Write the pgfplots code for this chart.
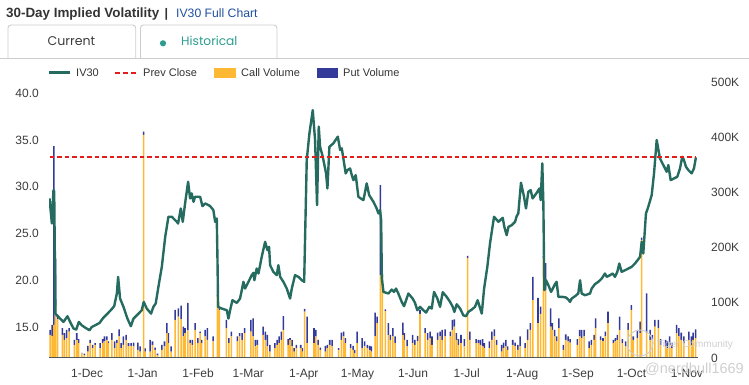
\documentclass[border=0pt]{standalone}
\usepackage{pgfplots}
\pgfplotsset{compat=1.18}
\usepackage{pgfplotstable}
\usepackage{fontspec}
\setmainfont{Liberation Sans}
\newfontfamily\tabfont{Poppins}
\definecolor{ivc}{HTML}{256B5F}
\definecolor{prevc}{HTML}{E31C1C}
\definecolor{callc}{HTML}{FDB933}
\definecolor{putc}{HTML}{343A9A}
\definecolor{labc}{HTML}{3C3C3C}
\definecolor{titlec}{HTML}{333333}
\definecolor{linkc}{HTML}{1F4FA0}
\definecolor{tealc}{HTML}{2B9C8E}
\definecolor{tabb}{HTML}{CCCCCC}
\definecolor{axc}{HTML}{555555}
\definecolor{wmc}{HTML}{CFCFCF}

\pgfplotstableread{
d v
-21.0 28.75
-19.7 26.07
-18.8 29.64
-18.4 29.5
-17.7 16.43
-16.9 16.25
-15.1 15.90
-13.2 15.54
-11.0 16.15
-9.5 15.54
-7.6 14.83
-6.1 14.72
-4.65 15.54
-3.0 15.18
-1.1 14.93
1.3 14.65
2.6 15.0
4.5 15.18
6.9 15.43
9.1 16.0
11.0 16.36
13.2 16.79
15.1 17.22
16.6 18.58
17.3 20.36
18.4 18.04
20.3 17.15
22.5 15.90
24.4 15.08
25.9 15.90
28.7 16.43
30.5 16.79
31.6 17.68
33.3 16.97
35.7 16.43
37.0 17.15
38.3 17.51
39.8 19.29
41.7 21.43
43.6 24.64
45.4 26.79
47.3 26.79
50.1 26.25
50.8 26.07
52.3 27.68
53.4 26.25
54.7 28.21
56.4 30.54
57.5 28.75
58.4 29.29
59.4 28.39
60.3 28.93
63.1 28.93
64.4 27.93
65.9 28.21
67.75 28.04
68.7 27.93
70.5 27.50
71.5 26.25
72.4 26.61
72.8 22.14
73.15 17.15
75.2 16.97
78.0 16.79
78.9 15.90
79.85 16.79
81.15 17.86
83.6 17.58
85.4 18.04
87.3 19.83
88.2 19.11
90.1 19.83
91.9 20.54
92.9 20.79
93.4 20.0
94.7 21.25
95.7 20.72
97.5 22.5
99.4 24.11
100.7 23.21
101.6 23.57
102.2 21.61
104.0 20.90
105.9 20.54
106.8 21.61
107.8 20.36
109.6 19.83
111.5 19.11
113.35 18.04
114.3 19.11
116.1 20.54
118.0 20.36
119.9 20.0
121.2 19.83
122.65 32.86
124.15 35.71
126.0 38.21
127.3 35.0
128.4 28.04
129.35 36.43
130.1 34.28
131.6 33.21
133.45 31.43
134.2 29.82
135.3 34.28
137.5 34.64
140.0 35.36
141.3 33.93
142.2 34.11
143.1 33.03
144.4 31.43
145.4 31.79
146.85 31.96
147.8 31.25
148.7 30.71
150.0 31.25
151.5 28.93
152.8 28.75
154.3 28.57
156.15 30.36
157.5 29.11
159.9 28.39
161.7 27.68
162.7 27.14
163.6 27.50
164.2 26.43
164.6 20.2
165.5 18.75
168.25 18.58
170.1 19.0
171.4 18.75
172.5 19.11
173.8 18.58
175.7 17.68
177.0 17.22
179.4 18.58
181.8 18.04
183.1 17.58
184.4 16.79
185.9 17.15
187.4 16.86
189.3 16.54
191.1 17.15
192.45 16.97
193.75 18.75
195.6 18.04
197.1 17.15
198.6 18.72
200.8 18.22
202.7 17.68
204.2 17.15
205.1 16.61
206.4 17.43
208.3 16.97
210.1 16.25
211.6 16.15
212.9 16.61
214.8 16.86
216.6 17.15
218.1 17.86
220.4 16.43
221.7 19.11
223.5 21.43
225.0 23.93
227.25 26.79
229.7 26.25
232.1 26.68
233.0 25.71
234.3 24.82
235.3 25.71
237.1 25.89
239.0 26.25
239.9 26.86
240.8 27.14
242.3 30.43
244.0 28.93
245.1 27.68
246.4 29.46
247.7 29.64
248.8 28.75
251.1 29.36
252.6 29.82
253.3 28.57
254.2 32.5
254.8 28.21
255.35 18.93
256.3 20.0
257.6 19.47
259.1 18.75
261.3 19.58
262.2 19.83
263.2 18.22
265.6 18.22
267.45 18.15
268.75 17.93
269.7 17.68
270.6 18.04
272.5 18.29
274.3 18.58
275.3 20.0
276.2 18.58
278.05 18.40
280.85 18.58
281.8 19.11
283.6 19.58
285.5 19.83
287.4 20.18
289.2 20.72
290.15 20.36
292.0 20.54
293.5 20.72
294.8 20.36
296.1 20.90
297.2 21.79
298.5 20.90
300.4 21.07
302.25 21.25
304.1 21.43
306.0 21.79
308.8 22.5
309.7 24.11
310.6 22.86
312.1 27.14
313.4 27.86
315.3 29.11
316.6 31.43
318.1 35.0
319.9 33.03
321.8 32.32
323.65 31.61
324.6 32.32
325.9 30.71
327.75 30.89
329.6 31.07
331.1 31.96
332.4 33.21
333.3 32.86
334.45 32.14
335.75 31.79
337.6 31.43
338.9 31.96
340.0 33.14
}\ivdata

\pgfplotstableread{
d c p
-20.7 42 9
-19.6 40 20
-18.6 60 324
-17.6 95 85
-16.5 70 8
-13.8 42 12
-12.7 33 12
-11.4 36 15
-10.05 48 6
-7.1 24 9
-5.8 33 12
-4.8 27 7
-3.0 8.5 1
-1.5 5 3
0.4 11.5 10.5
1.7 27 6
3.0 18 6
4.5 24 3
7.3 18 9
8.6 27 7
9.7 30 9
11.0 33 6
11.9 27 3
13.8 33 12
15.3 18 12
16.6 27 6
17.9 39 13
19.0 18 9
20.3 24 15
21.8 33 9
23.1 21 6
24.6 22 5
25.9 21 7
28.3 14.5 13.5
29.6 11.5 9.5
31.5 404 6
32.4 11.5 6
35.2 11.5 21.5
36.5 24 6
38.0 14.5 4.5
39.3 5 3
41.7 14.5 9.5
43.2 21 9
44.5 45 18
45.4 27 18
46.9 11.5 9.5
49.1 69 18
51.0 75 15
52.5 70 25
53.8 39 18
54.7 45 9
56.2 50 50
57.5 27 6
58.8 24 9
60.3 51 12
61.8 27 9
63.1 45 3
64.0 27 6
65.9 39 12
67.2 33 21
70.4 30 9
72.8 111 4
73.9 87 3
77.8 54 15
79.1 27 9
80.6 39 9
83.9 30 9
85.2 39 6
86.5 33 12
88.0 45 9
91.4 48 21
92.7 39 33
94.0 21 12
95.1 24 9
98.3 42 15
99.6 33 15
100.7 21 21
102.0 11.5 12.5
104.8 18 9
106.1 24 9
107.2 27 12
108.5 33 15
109.6 51 25
112.2 24 10
113.3 33 3
114.5 21 12
115.6 11.5 6.5
116.9 18 6
119.3 18 6
120.2 11.5 6.5
121.5 84 5
122.8 27 48
126.7 27 27
127.7 39 12
129.0 24 9
130.3 14.5 4.5
133.1 11.5 10.5
134.2 18 6
135.5 24 9
136.8 21 12
140.5 14.5 3.5
142.0 33 13
143.3 39 9
144.2 27 9
147.2 18 7
148.5 14.5 7.5
149.4 8.5 6
150.8 27 21
153.6 18 18
155.0 21 9
156.5 18 6
157.8 14.5 7.5
158.8 11.5 9.5
160.8 39 43
161.9 63 12
163.8 150 163
164.9 147 3
166.5 85 3
168.2 42 21
169.4 33 9
170.7 39 15
172.0 27 12
176.3 42 22
177.2 33 12
178.7 21 12
181.8 27 15
183.1 24 9
184.6 30 10
185.9 80 7
188.7 45 9
190.2 33 12
191.5 36 12
192.6 24 15
195.8 33 13
197.1 39 9
198.2 33 18
199.9 39 13
202.9 39 9
204.0 51 18
205.1 57 13
206.2 33 12
207.3 24 10
208.8 27 15
210.7 21 13
212.5 181 4
213.7 33 15
217.2 27 7
218.5 27 6
219.6 24 9
220.9 21 13
221.9 18 9
224.6 18 12
226.1 33 15
227.4 39 13
228.7 24 9
231.5 11.5 12.5
232.6 18 10
233.9 21 12
234.9 14.5 6.5
237.7 24 9
239.0 21 7
240.5 14.5 9.5
241.8 21 18
244.6 18 9
246.0 33 19
247.5 51 12
249.0 105 42
251.8 63 46
253.3 80 13
254.8 181 4
256.1 123 49
258.9 57 33
259.8 51 12
261.1 39 12
262.2 30 9
263.5 54 18
266.0 14.5 9.5
267.3 33 10
268.6 30 9
269.7 28 6
273.8 24 10
275.1 39 12
276.2 36 15
277.5 39 12
280.3 18 12
281.6 24 9
283.1 33 9
284.0 54 18
286.8 33 6
288.1 30 6
289.4 39 9
290.9 63 21
293.9 27 6
295.0 30 6
296.1 33 9
297.4 51 24
298.9 27 7
300.8 21 9
302.1 51 12
303.9 87 9
305.0 33 6
307.3 36 15
308.8 45 21
309.7 214 4
312.5 45 72
314.4 33 18
315.7 33 9
317.1 57 12
319.0 54 15
320.3 24 10
323.1 21 12
324.0 18 12
325.3 24 15
326.5 18 9
329.2 45 15
330.5 39 15
331.8 33 13
333.3 27 12
336.1 33 15
337.4 24 15
338.5 33 13
339.8 36 16
}\voldata

\begin{document}
\begin{tikzpicture}
\path[use as bounding box] (0pt,0pt) rectangle (749pt,385pt);
\begin{scope}[x=1pt,y=1pt]
% title
\node[anchor=base west, inner sep=0pt, text=titlec, font=\fontsize{13.4}{15}\selectfont\bfseries] at (6,367.7) {30-Day Implied Volatility};
\node[anchor=base west, inner sep=0pt, text=titlec, font=\fontsize{12.5}{15}\selectfont\bfseries] at (164.5,367.7) {|};
\node[anchor=base west, inner sep=0pt, text=linkc, font=\fontsize{12.2}{15}\selectfont] at (176,367.7) {IV30 Full Chart};
% tabs
\draw[tabb, line width=0.9pt, rounded corners=3pt] (8,327) -- (8,360) -- (135.7,360) -- (135.7,327);
\draw[tabb, line width=0.9pt, rounded corners=3pt] (140.5,327) -- (140.5,360) -- (277,360) -- (277,327);
\draw[tabb, line width=0.9pt] (0,327) -- (749,327);
\node[anchor=base, inner sep=0pt, text=labc, font=\tabfont\fontsize{12.6}{15}\selectfont] at (71.5,339.3) {Current};
\fill[tealc] (163,341.7) circle (3.1);
\node[anchor=base west, inner sep=0pt, text=tealc, font=\tabfont\fontsize{12.2}{15}\selectfont] at (181,339.3) {Historical};
% legend
\draw[ivc, line width=2.5pt] (49,312.3) -- (70,312.3);
\node[anchor=west, inner sep=0pt, text=titlec, font=\fontsize{11}{13}\selectfont] at (76,312.3) {IV30};
\draw[prevc, line width=2pt, dash pattern=on 4.5pt off 3.5pt] (115,312.3) -- (137,312.3);
\node[anchor=west, inner sep=0pt, text=titlec, font=\fontsize{11}{13}\selectfont] at (143,312.3) {Prev Close};
\fill[callc] (214,306.7) rectangle (236,317.3);
\node[anchor=west, inner sep=0pt, text=titlec, font=\fontsize{11}{13}\selectfont] at (241,312.3) {Call Volume};
\fill[putc] (317,306.7) rectangle (338,317.3);
\node[anchor=west, inner sep=0pt, text=titlec, font=\fontsize{11}{13}\selectfont] at (343,312.3) {Put Volume};
\end{scope}

% volume axis (right)
\begin{axis}[
  at={(49pt,27pt)}, anchor=south west, scale only axis,
  width=648.7pt, height=276pt,
  xmin=-21.3, xmax=341, ymin=0, ymax=500,
  axis x line=none, axis y line*=right,
  y axis line style={draw=none},
  ytick={0,100,200,300,400,500},
  yticklabels={0,100K,200K,300K,400K,500K},
  major tick length=0pt,
  yticklabel style={anchor=west, inner sep=0pt, xshift=13.3pt, text=labc, font=\fontsize{12}{14}\selectfont},
  ybar stacked, bar width=0.85,
]
\addplot[fill=callc, draw=none] table[x=d,y=c]{\voldata};
\addplot[fill=putc, draw=none] table[x=d,y=p]{\voldata};
\end{axis}

% IV axis (left)
\begin{axis}[
  at={(49pt,27pt)}, anchor=south west, scale only axis,
  width=648.7pt, height=276pt,
  xmin=-21.3, xmax=341, ymin=11.68, ymax=41.21,
  axis x line*=bottom, axis y line*=left,
  y axis line style={draw=none},
  x axis line style={draw=axc, line width=1pt, -},
  xtick={0,31,62,90,121,151,182,212,243,274,304,335},
  xticklabels={1-Dec,1-Jan,1-Feb,1-Mar,1-Apr,1-May,1-Jun,1-Jul,1-Aug,1-Sep,1-Oct,1-Nov},
  ytick={15,20,25,30,35,40},
  yticklabels={15.0,20.0,25.0,30.0,35.0,40.0},
  major tick length=0pt,
  xticklabel style={anchor=base, inner sep=0pt, yshift=-19.7pt, text=labc, font=\fontsize{12}{14}\selectfont},
  yticklabel style={anchor=east, inner sep=0pt, xshift=-10pt, text=labc, font=\fontsize{12}{14}\selectfont},
]
\addplot[ivc, line width=2.4pt, line join=round, mark=none] table[x=d,y=v]{\ivdata};
\addplot[prevc, line width=2pt, dash pattern=on 4.5pt off 3pt, mark=none] coordinates {(-21,33.15) (340,33.15)};
\end{axis}

% watermark
\begin{scope}[x=1pt,y=1pt]
\draw[wmc, line width=1pt] (640,42) circle (13);
\node[anchor=west, inner sep=0pt, text=wmc, font=\fontsize{10}{12}\selectfont] at (657,40) {Tiger Community};
\node[anchor=west, inner sep=0pt, text=wmc, font=\fontsize{14.5}{16}\selectfont] at (645,16) {@nerdbull1669};
\end{scope}
\end{tikzpicture}
\end{document}
